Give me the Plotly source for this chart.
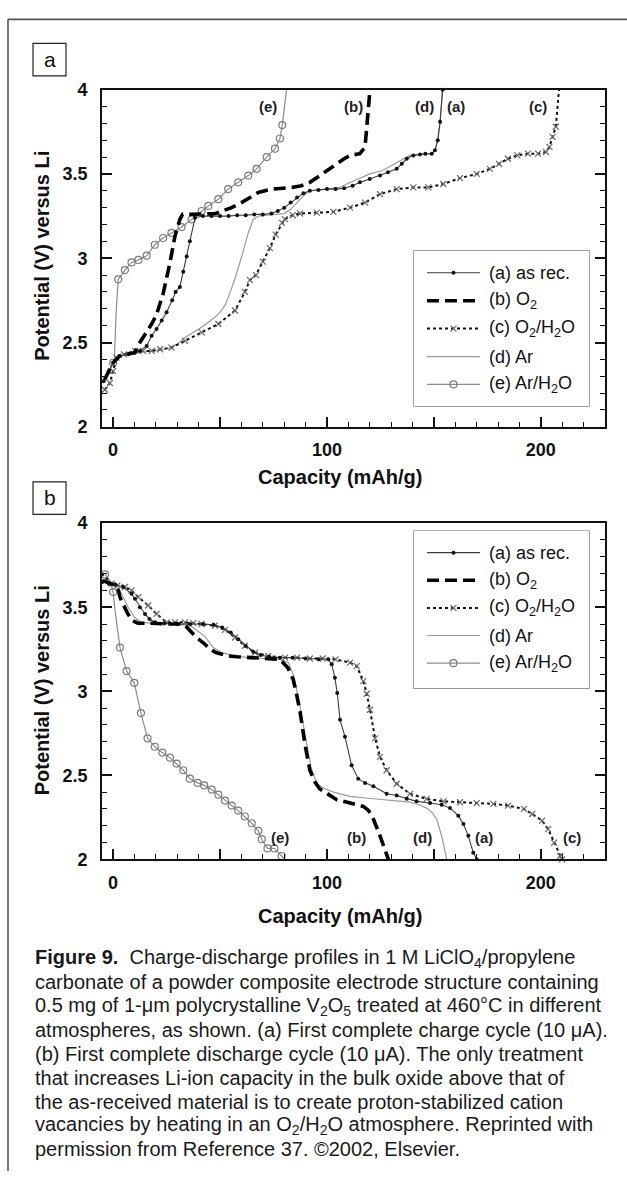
import plotly.graph_objects as go

W, H = 627, 1181

# ---------------- DATA ----------------
# Panel a: first charge cycle
A_CH_CAP = [-4.5, -2, 0, 3, 7, 10, 12.5, 15.7, 18, 20.3, 22.7, 25, 27.6, 29.2, 31.2, 32.8, 34.4, 35.9, 38.3,
            42, 46, 50, 54, 58, 62, 66, 70, 74, 77, 80, 83, 86, 89, 92, 96, 100, 104, 108, 112, 115.4, 120,
            124.8, 128.5, 132.6, 135, 137.3, 140.4, 143.5, 146, 149, 150.5, 151.8, 152.9, 154.1]
A_CH_V = [2.27, 2.33, 2.38, 2.42, 2.43, 2.44, 2.45, 2.48, 2.54, 2.58, 2.63, 2.68, 2.75, 2.80, 2.83, 2.92, 3.01,
          3.10, 3.24, 3.25, 3.25, 3.25, 3.25, 3.255, 3.255, 3.26, 3.26, 3.265, 3.28, 3.30, 3.33, 3.36, 3.385,
          3.40, 3.405, 3.41, 3.41, 3.415, 3.43, 3.45, 3.47, 3.49, 3.51, 3.53, 3.56, 3.59, 3.61, 3.615, 3.62,
          3.62, 3.64, 3.70, 3.81, 4.0]

B_CH_CAP = [-4, -2, 0, 3, 7, 10, 12.5, 15.7, 18, 20.3, 23.4, 26.6, 28.9, 31.2, 32.5, 36, 40, 44, 48, 51, 55.4,
            60, 64, 67.9, 74.1, 79, 83.5, 88, 92, 96.7, 100.5, 104.5, 108, 110.8, 113, 115.4, 117.8, 118.6,
            119.3, 120.1]
B_CH_V = [2.28, 2.33, 2.38, 2.42, 2.43, 2.44, 2.50, 2.56, 2.61, 2.665, 2.79, 2.975, 3.13, 3.23, 3.26, 3.26,
          3.26, 3.26, 3.265, 3.28, 3.30, 3.33, 3.36, 3.39, 3.41, 3.415, 3.42, 3.43, 3.45, 3.49, 3.525, 3.56,
          3.59, 3.61, 3.615, 3.62, 3.66, 3.79, 3.90, 4.0]

C_CH_CAP = [-3.9, -1.5, 0, 1.6, 5, 10.2, 14, 18, 22, 27.3, 33.6, 41.4, 49.2, 57, 61.6, 64, 66.8, 70, 73.3,
            76, 79, 80.3, 84, 87.4, 95.2, 103, 110.8, 117.8, 124.8, 132.6, 140.4, 147.4, 154.4, 162.2, 170,
            176.2, 180.5, 184.6, 189, 194, 198.7, 202.4, 204, 205.5, 207, 208.5]
C_CH_V = [2.22, 2.26, 2.33, 2.41, 2.43, 2.45, 2.45, 2.45, 2.46, 2.47, 2.51, 2.56, 2.61, 2.69, 2.80, 2.87,
          2.90, 2.98, 3.06, 3.14, 3.21, 3.232, 3.255, 3.265, 3.27, 3.275, 3.30, 3.33, 3.38, 3.41, 3.42, 3.42,
          3.44, 3.475, 3.50, 3.53, 3.56, 3.59, 3.61, 3.62, 3.62, 3.63, 3.66, 3.72, 3.78, 4.0]

D_CH_CAP = [-4, -2, 0, 3, 7, 12, 18, 24, 27.3, 30, 33.6, 37.5, 41.4, 44.5, 47.6, 50, 52.3, 54.5, 57, 60.1,
            63.2, 65.5, 68, 72, 76, 80, 83, 86, 89, 92, 96, 100, 104, 106, 110, 115.4, 120, 126, 131, 135.7,
            138.8, 142, 146, 149, 150.5, 151.8, 152.9, 154]
D_CH_V = [2.27, 2.33, 2.38, 2.42, 2.43, 2.44, 2.45, 2.46, 2.47, 2.49, 2.53, 2.56, 2.59, 2.62, 2.65, 2.68,
          2.72, 2.79, 2.88, 3.01, 3.15, 3.23, 3.25, 3.255, 3.26, 3.265, 3.29, 3.33, 3.37, 3.40, 3.405, 3.41,
          3.415, 3.42, 3.445, 3.475, 3.50, 3.52, 3.555, 3.59, 3.61, 3.615, 3.62, 3.62, 3.64, 3.70, 3.81, 4.0]

E_CH_CAP = [-3, -1, 0, 0.6, 1.5, 2.4, 5.5, 8.6, 11.8, 15.7, 19.5, 23.4, 27.3, 32, 36.7, 41.4, 44.5, 49.2,
            53.8, 58.5, 63.2, 67.1, 71.8, 75.7, 78, 79.1, 80.2, 81.1]
E_CH_V = [2.30, 2.35, 2.38, 2.41, 2.70, 2.875, 2.93, 2.975, 2.99, 3.015, 3.08, 3.12, 3.15, 3.185, 3.23,
          3.28, 3.31, 3.35, 3.41, 3.45, 3.49, 3.53, 3.60, 3.65, 3.71, 3.79, 3.90, 4.0]

# Panel b: first discharge cycle
A_DIS_CAP = [-5, -2, 1, 4.7, 8.6, 10.2, 12.5, 14.9, 17, 19.6, 24, 30, 36, 42, 47, 51, 55, 58.5, 62, 65.5,
             69, 73, 78, 84, 90, 96, 100.6, 102.2, 103.7, 104.8, 106.1, 108.4, 111.5, 114.6, 117.8, 121.7,
             127.9, 132.6, 137.3, 141.9, 148.2, 153.6, 157.5, 161.4, 163.8, 166.1, 168.4, 170]
A_DIS_V = [3.65, 3.64, 3.635, 3.62, 3.58, 3.55, 3.50, 3.46, 3.43, 3.41, 3.405, 3.40, 3.40, 3.40, 3.395,
           3.38, 3.35, 3.31, 3.27, 3.235, 3.215, 3.205, 3.20, 3.20, 3.195, 3.19, 3.19, 3.16, 3.08, 2.99,
           2.83, 2.73, 2.56, 2.48, 2.455, 2.435, 2.39, 2.38, 2.36, 2.345, 2.335, 2.325, 2.305, 2.26, 2.21,
           2.14, 2.04, 2.0]

B_DIS_CAP = [-5, -2, 1, 2.5, 3.2, 5, 6.9, 9, 11.6, 16, 22, 28, 33.1, 36, 39, 42, 45, 48, 53.7, 58, 63, 70,
             78, 81.7, 84.2, 85.5, 87.4, 89.7, 92, 94.4, 96.5, 99.9, 104.5, 110.8, 117, 119.5, 121.7, 124.8,
             127.9, 128.7]
B_DIS_V = [3.66, 3.645, 3.63, 3.60, 3.56, 3.51, 3.46, 3.42, 3.405, 3.405, 3.40, 3.40, 3.40, 3.36, 3.32,
           3.29, 3.255, 3.23, 3.21, 3.205, 3.20, 3.195, 3.19, 3.14, 3.07, 3.00, 2.88, 2.685, 2.53, 2.46,
           2.42, 2.393, 2.355, 2.335, 2.315, 2.29, 2.24, 2.14, 2.04, 2.0]

C_DIS_CAP = [-5.4, -0.7, 2, 5.5, 8.6, 11.8, 16.4, 20.3, 25, 29, 33.6, 37.5, 41.4, 47.6, 52.3, 57, 61.6,
             66.3, 72.5, 80.4, 86, 92, 98, 104, 110.8, 113.9, 117, 118.6, 120.1, 122.5, 124.8, 127.9, 132.6,
             138.8, 146.6, 154.4, 162.2, 170, 177.8, 184.7, 192.1, 195.9, 200.6, 203.4, 206.2, 209, 209.9]
C_DIS_V = [3.70, 3.64, 3.63, 3.62, 3.60, 3.56, 3.51, 3.46, 3.41, 3.41, 3.41, 3.405, 3.40, 3.39, 3.365,
           3.32, 3.27, 3.23, 3.21, 3.20, 3.20, 3.195, 3.195, 3.19, 3.17, 3.15, 3.06, 2.985, 2.89, 2.72,
           2.61, 2.53, 2.45, 2.39, 2.36, 2.345, 2.34, 2.335, 2.33, 2.32, 2.30, 2.27, 2.23, 2.18, 2.10,
           2.02, 2.0]

D_DIS_CAP = [-5, -2, 1, 4, 7, 10, 13, 18, 24, 30, 36, 38.3, 43, 46.8, 50.7, 57, 63, 70, 78, 82, 84.5, 86.5,
             88.5, 90.5, 92.5, 95.2, 99, 103, 110.8, 118, 126.3, 132, 138.8, 143, 146.6, 149, 151.3, 153.6,
             155.2, 156]
D_DIS_V = [3.66, 3.645, 3.63, 3.58, 3.50, 3.44, 3.41, 3.405, 3.40, 3.40, 3.39, 3.37, 3.325, 3.26, 3.23,
           3.21, 3.20, 3.195, 3.19, 3.17, 3.09, 2.97, 2.83, 2.68, 2.55, 2.45, 2.42, 2.40, 2.375, 2.365,
           2.355, 2.35, 2.34, 2.325, 2.305, 2.28, 2.24, 2.14, 2.04, 2.0]

E_DIS_CAP = [-3.8, -1.5, 0, 0.8, 2.4, 3.2, 6.3, 9.9, 13, 16.1, 19.5, 23, 26.6, 29.7, 32.8, 35.9, 39.5, 42.6,
             46.1, 49.2, 52.3, 55.4, 58.5, 61.6, 64.8, 67.9, 69.5, 72.2, 75.4, 78.8, 80.4]
E_DIS_V = [3.695, 3.66, 3.59, 3.49, 3.335, 3.26, 3.12, 3.05, 2.87, 2.72, 2.67, 2.635, 2.605, 2.57, 2.53,
           2.48, 2.455, 2.44, 2.415, 2.385, 2.35, 2.32, 2.29, 2.255, 2.215, 2.17, 2.12, 2.065, 2.065, 2.02,
           2.0]

SERIES_KEYS = ["a", "b", "c", "d", "e"]
LEGEND_LABELS = ["(a) as rec.", "(b) O<sub>2</sub>", "(c) O<sub>2</sub>/H<sub>2</sub>O", "(d) Ar",
                 "(e) Ar/H<sub>2</sub>O"]
X_TICKS = [0, 50, 100, 150, 200]
X_TICK_TEXT = ["0", "", "100", "", "200"]
Y_TICKS = [2, 2.5, 3, 3.5, 4]
Y_TICK_TEXT = ["2", "2.5", "3", "3.5", "4"]
X_RANGE = [-5.2, 230]
Y_RANGE = [2, 4]

CAPTION = [
    "<b>Figure 9.</b>  Charge-discharge profiles in 1 M LiClO<sub>4</sub>/propylene",
    "carbonate of a powder composite electrode structure containing",
    "0.5 mg of 1-μm polycrystalline V<sub>2</sub>O<sub>5</sub> treated at 460°C in different",
    "atmospheres, as shown. (a) First complete charge cycle (10 μA).",
    "(b) First complete discharge cycle (10 μA). The only treatment",
    "that increases Li-ion capacity in the bulk oxide above that of",
    "the as-received material is to create proton-stabilized cation",
    "vacancies by heating in an O<sub>2</sub>/H<sub>2</sub>O atmosphere. Reprinted with",
    "permission from Reference 37. ©2002, Elsevier.",
]

# ---------------- STYLE ----------------
FONT = "Liberation Sans, Arial, sans-serif"
STYLE = {
    "a": dict(line=dict(color="#3c3c3c", width=1.1),
              marker=dict(symbol="circle", size=4, color="#111")),
    "b": dict(line=dict(color="#000", width=3.6, dash="12px,6px"), marker=None),
    "c": dict(line=dict(color="#111", width=2.0, dash="dot"),
              marker=dict(symbol="x-thin", size=6, color="#666", line=dict(color="#666", width=1.2))),
    "d": dict(line=dict(color="#9a9a9a", width=1.2), marker=None),
    "e": dict(line=dict(color="#8c8c8c", width=1.2),
              marker=dict(symbol="circle-open", size=7, color="#7a7a7a", line=dict(color="#7a7a7a", width=1.2))),
}


def px(x):
    return x / W


def py(y):
    return 1 - y / H


fig = go.Figure()

panels = {
    1: dict(a=(A_CH_CAP, A_CH_V, slice(None)), b=(B_CH_CAP, B_CH_V, None),
            c=(C_CH_CAP, C_CH_V, slice(0, -1)), d=(D_CH_CAP, D_CH_V, None),
            e=(E_CH_CAP, E_CH_V, [2] + list(range(5, 26)))),
    2: dict(a=(A_DIS_CAP, A_DIS_V, slice(None)), b=(B_DIS_CAP, B_DIS_V, None),
            c=(C_DIS_CAP, C_DIS_V, slice(None)), d=(D_DIS_CAP, D_DIS_V, None),
            e=(E_DIS_CAP, E_DIS_V, [0, 2] + list(range(5, 30)))),
}

draw_order = ["d", "e", "c", "a", "b"]
for p, series in panels.items():
    xa, ya = ("x", "y") if p == 1 else ("x2", "y2")
    for k in draw_order:
        cap, v, mark = series[k]
        st = STYLE[k]
        fig.add_trace(go.Scatter(x=cap, y=v, mode="lines", line=st["line"], xaxis=xa, yaxis=ya,
                                 showlegend=False, hoverinfo="skip"))
        if st["marker"] is not None and mark is not None:
            if isinstance(mark, slice):
                mx, my = cap[mark], v[mark]
            else:
                mx, my = [cap[i] for i in mark], [v[i] for i in mark]
            fig.add_trace(go.Scatter(x=mx, y=my, mode="markers", marker=st["marker"], xaxis=xa, yaxis=ya,
                                     showlegend=False, hoverinfo="skip", cliponaxis=False))

# ---------------- manual legends (drawn on helper axes) ----------------
LEG = {
    3: dict(box=(414, 245, 589, 403), y0=22.3, dy=28.4),
    4: dict(box=(414, 530, 589, 690), y0=22.0, dy=28.1),
}
for n, lg in LEG.items():
    x0, y0, x1, y1 = lg["box"]
    fig.add_shape(type="rect", xref="paper", yref="paper", x0=px(x0), x1=px(x1), y0=py(y1), y1=py(y0),
                  line=dict(color="#666", width=1.2), fillcolor="white", layer="below")
    for i, k in enumerate(SERIES_KEYS):
        yy = lg["y0"] + lg["dy"] * i
        st = STYLE[k]
        fig.add_trace(go.Scatter(x=[13, 66], y=[yy, yy], mode="lines", line=st["line"],
                                 xaxis=f"x{n}", yaxis=f"y{n}", showlegend=False, hoverinfo="skip"))
        if st["marker"] is not None:
            fig.add_trace(go.Scatter(x=[39.5], y=[yy], mode="markers", marker=st["marker"],
                                     xaxis=f"x{n}", yaxis=f"y{n}", showlegend=False, hoverinfo="skip"))
        fig.add_annotation(x=73, y=yy, xref=f"x{n}", yref=f"y{n}", text=LEGEND_LABELS[i], showarrow=False,
                           xanchor="left", yanchor="middle", font=dict(family=FONT, size=18, color="#111"))

# ---------------- axes ----------------
def xaxis(anchor):
    return dict(domain=[px(102), px(605)], range=X_RANGE, anchor=anchor, showgrid=False, zeroline=False,
                showline=True, linecolor="#111", linewidth=1.8, mirror=True, ticks="inside", ticklen=10,
                tickwidth=1.5, tickcolor="#111", tickvals=X_TICKS, ticktext=X_TICK_TEXT,
                ticklabelstandoff=6,
                tickfont=dict(family=FONT, size=18, color="#111", weight="bold"),
                minor=dict(dtick=10, tick0=0, ticks="inside", ticklen=5, tickwidth=1.3, tickcolor="#111"))


def yaxis(anchor, top, bottom):
    return dict(domain=[py(bottom), py(top)], range=Y_RANGE, anchor=anchor, showgrid=False, zeroline=False,
                showline=True, linecolor="#111", linewidth=1.8, mirror="ticks", ticks="inside", ticklen=10,
                tickwidth=1.5, tickcolor="#111", tickvals=Y_TICKS, ticktext=Y_TICK_TEXT,
                ticklabelstandoff=9,
                tickfont=dict(family=FONT, size=18, color="#111", weight="bold"),
                minor=dict(dtick=0.1, tick0=2, ticks="inside", ticklen=5, tickwidth=1.3, tickcolor="#111"))


layout = dict(
    width=W, height=H, margin=dict(l=0, r=0, t=0, b=0), paper_bgcolor="white", plot_bgcolor="white",
    showlegend=False,
    xaxis=xaxis("y"), yaxis=yaxis("x", 81, 424),
    xaxis2=xaxis("y2"), yaxis2=yaxis("x2", 522, 864),
)
for n, lg in LEG.items():
    x0, y0, x1, y1 = lg["box"]
    layout[f"xaxis{n}"] = dict(domain=[px(x0), px(x1)], range=[0, x1 - x0], visible=False, anchor=f"y{n}")
    layout[f"yaxis{n}"] = dict(domain=[py(y1), py(y0)], range=[y1 - y0, 0], visible=False, anchor=f"x{n}")
fig.update_layout(**layout)

# ---------------- decorations ----------------
# outer frame (top + left)
fig.add_shape(type="line", xref="paper", yref="paper", x0=px(8), x1=1, y0=py(9.5), y1=py(9.5),
              line=dict(color="#555", width=1.6))
fig.add_shape(type="line", xref="paper", yref="paper", x0=px(8), x1=px(8), y0=py(9.5), y1=0,
              line=dict(color="#555", width=1.6))

# panel letter boxes
for letter, (bx0, by0) in {"a": (33, 34), "b": (33, 480)}.items():
    fig.add_shape(type="rect", xref="paper", yref="paper", x0=px(bx0), x1=px(bx0 + 33), y0=py(by0 + 33),
                  y1=py(by0), line=dict(color="#222", width=1.2), fillcolor="white")
    fig.add_annotation(x=px(bx0 + 16.5), y=py(by0 + 16), xref="paper", yref="paper", text=letter,
                       showarrow=False, xanchor="center", yanchor="middle",
                       font=dict(family=FONT, size=21, color="#111"))

# axis titles
for (tx, ty) in [(340, 475), (340, 922)]:
    fig.add_annotation(x=px(tx), y=py(ty), xref="paper", yref="paper", text="Capacity (mAh/g)",
                       showarrow=False, xanchor="center", yanchor="middle",
                       font=dict(family=FONT, size=20, color="#111", weight="bold"))
for ty in [250, 692]:
    fig.add_annotation(x=px(42), y=py(ty), xref="paper", yref="paper", text="Potential (V) versus Li",
                       textangle=-90, showarrow=False, xanchor="center", yanchor="middle",
                       font=dict(family=FONT, size=20, color="#111", weight="bold"))

# curve labels
CURVE_LABELS_A = [("(e)", 268, 98), ("(b)", 353, 98), ("(d)", 424, 98), ("(a)", 456, 98), ("(c)", 538, 98)]
CURVE_LABELS_B = [("(e)", 280, 842), ("(b)", 356, 842), ("(d)", 422, 842), ("(a)", 484, 842), ("(c)", 572, 842)]
for t, lx, ly in CURVE_LABELS_A + CURVE_LABELS_B:
    fig.add_annotation(x=px(lx), y=py(ly), xref="paper", yref="paper", text=t, showarrow=False,
                       xanchor="center", yanchor="middle",
                       font=dict(family=FONT, size=15, color="#222", weight="bold"))

# caption
for i, line in enumerate(CAPTION):
    fig.add_annotation(x=px(33), y=py(965 + 24.25 * i), xref="paper", yref="paper", text=line,
                       showarrow=False, xanchor="left", yanchor="middle", align="left",
                       font=dict(family=FONT, size=20, color="#1a1a1a"))

fig.write_html("out.html", config={"displayModeBar": False},
               post_script="document.body.style.margin='0';document.body.style.overflow='hidden';")
